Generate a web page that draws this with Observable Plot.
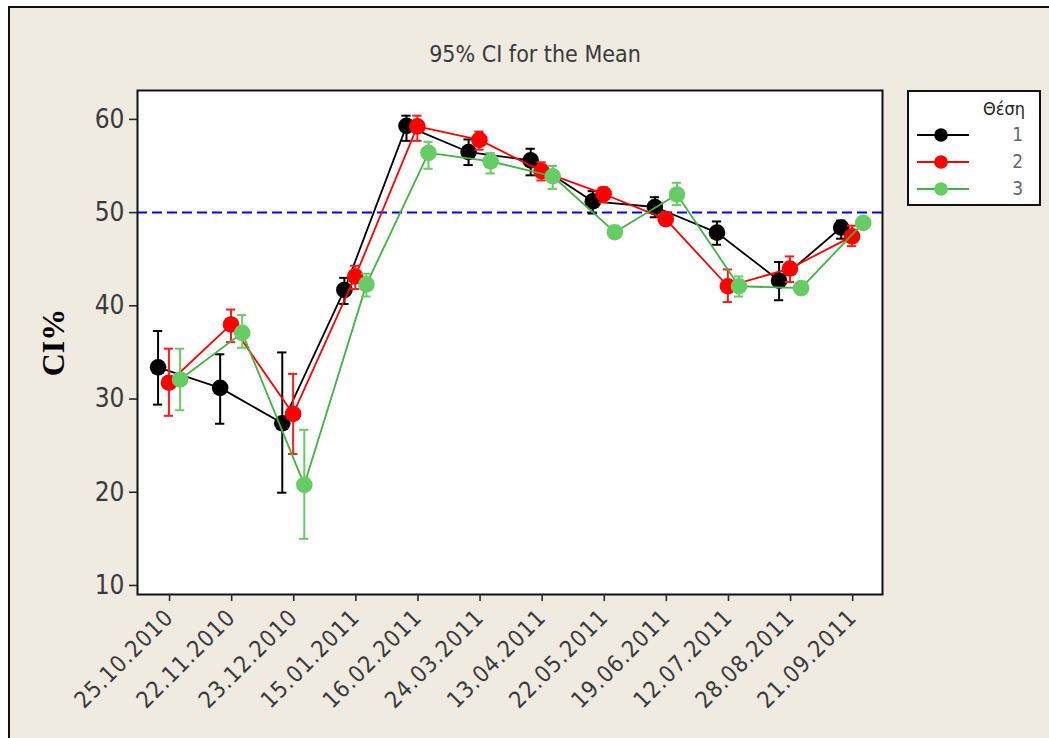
<!DOCTYPE html>
<html><head><meta charset="utf-8">
<script src="https://cdn.jsdelivr.net/npm/d3@7"></script>
<script src="https://cdn.jsdelivr.net/npm/@observablehq/plot@0.6"></script>
<style>
body{margin:0;background:#fff;}
#wrap{position:relative;width:1049px;height:738px;overflow:hidden;font-family:"DejaVu Sans Condensed","DejaVu Sans",sans-serif;}
#bg{position:absolute;left:8px;top:6px;right:-10px;bottom:-10px;background:#EFEBE1;border-left:2px solid #111;border-top:2px solid #111;}
#title{position:absolute;left:0;width:1070px;top:41px;text-align:center;font-size:23px;color:#3a3a3a;}
#chart{position:absolute;left:0;top:0;}
#legend{position:absolute;left:907px;top:90px;width:130px;height:112px;background:#fff;border:2px solid #111;}
#legend .lt{position:absolute;right:14px;top:6px;font-size:18px;color:#222;}
#legend .row{position:absolute;left:0;width:130px;height:20px;}
#legend .row svg{position:absolute;left:8px;top:0;}
#legend .row span{position:absolute;right:16px;top:-2px;font-size:19px;color:#666;}
g[aria-label="y-axis label"] text{font-family:"Liberation Serif",serif;font-weight:bold;font-size:32px;fill:#000;}
g[aria-label="x-axis tick label"] text{letter-spacing:1px;}
</style></head>
<body>
<div id="wrap">
  <div id="bg"></div>
  <div id="title">95% CI for the Mean</div>
  <div id="chart"></div>
  <div id="legend"></div>
</div>
<script>
const dates = ["25.10.2010","22.11.2010","23.12.2010","15.01.2011","16.02.2011","24.03.2011","13.04.2011","22.05.2011","19.06.2011","12.07.2011","28.08.2011","21.09.2011"];
const seriesNames = ["1","2","3"];
const legendTitle = "Θέση";
const yTicks = [10,20,30,40,50,60];
const refLine = [50];

const mean1 = [33.4,31.2,27.4,41.7,59.3,56.5,55.6,51.2,50.6,47.85,42.7,48.4];
const lo1   = [29.4,27.35,19.95,40.2,57.7,55.1,54.0,49.9,49.5,46.55,40.6,47.2];
const hi1   = [37.3,34.8,35.0,43.0,60.4,57.85,56.85,52.3,51.65,49.05,44.7,49.15];

const mean2 = [31.75,38.0,28.4,43.15,59.25,57.8,54.45,52.0,49.3,42.1,44.0,47.45];
const lo2   = [28.2,36.1,24.1,41.8,57.7,56.75,53.45,51.1,48.7,40.4,42.55,46.4];
const hi2   = [35.4,39.6,32.7,44.3,60.4,58.7,55.4,52.7,49.9,43.9,45.3,48.6];

const mean3 = [32.1,37.1,20.8,42.3,56.4,55.5,53.9,47.9,51.95,42.1,41.9,48.9];
const lo3   = [28.8,35.5,15.0,41.0,54.7,54.2,52.55,47.3,50.8,41.0,41.3,48.3];
const hi3   = [35.4,39.0,26.7,43.45,57.6,56.4,55.0,48.5,53.2,43.15,42.5,49.5];

const means = [mean1, mean2, mean3], los = [lo1, lo2, lo3], his = [hi1, hi2, hi3];
const offsets = [-0.185, -0.01, 0.17];
const lineColors = ["#000000", "#ff0000", "#3fb43f"];
const dotColors  = ["#000000", "#ff0000", "#66cc66"];
const barColors  = ["#000000", "#ff1a1a", "#66cc66"];
const cap = 0.075;

const marks = [
  Plot.frame({fill: "white"}),
  Plot.ruleY(refLine, {stroke: "#0000ff", strokeWidth: 2, strokeDasharray: "10,5"})
];
seriesNames.forEach((s, k) => {
  const rows = dates.map((d, i) => ({i, x: i + offsets[k], m: means[k][i], lo: los[k][i], hi: his[k][i]}));
  marks.push(
    Plot.line(rows, {x: "x", y: "m", stroke: lineColors[k], strokeWidth: 1.8}),
    Plot.ruleX(rows, {x: "x", y1: "lo", y2: "hi", stroke: barColors[k], strokeWidth: 2}),
    Plot.ruleY(rows, {y: "lo", x1: d => d.x - cap, x2: d => d.x + cap, stroke: barColors[k], strokeWidth: 2}),
    Plot.ruleY(rows, {y: "hi", x1: d => d.x - cap, x2: d => d.x + cap, stroke: barColors[k], strokeWidth: 2}),
    Plot.dot(rows, {x: "x", y: "m", r: 8.3, fill: dotColors[k], stroke: "none"})
  );
});
marks.push(
  Plot.frame({stroke: "#111", strokeWidth: 2}),
  Plot.axisY(yTicks, {tickSize: 8, tickPadding: 5, strokeWidth: 1.6, fill: "#3a3a3a", label: "CI%", labelAnchor: "center", labelArrow: "none", labelOffset: 96}),
  Plot.axisX(d3.range(dates.length), {tickFormat: i => dates[i], tickRotate: -45, tickSize: 7, tickPadding: 12, strokeWidth: 1.6, fill: "#3a3a3a", fontSize: 23, label: null})
);

const chart = Plot.plot({
  width: 1049, height: 738,
  marginLeft: 137, marginRight: 167, marginTop: 90, marginBottom: 144,
  x: {domain: [-0.516, 11.48]},
  y: {domain: [9.03, 63.1]},
  style: {background: "transparent", fontFamily: '"DejaVu Sans Condensed","DejaVu Sans",sans-serif', fontSize: "26px", color: "#2a2a2a", overflow: "visible"},
  marks
});
document.getElementById("chart").appendChild(chart);

// legend
const lg = document.getElementById("legend");
const t = document.createElement("div"); t.className = "lt"; t.textContent = legendTitle; lg.appendChild(t);
seriesNames.forEach((s, k) => {
  const row = document.createElement("div"); row.className = "row"; row.style.top = (33 + k * 27) + "px";
  row.innerHTML = `<svg width="56" height="20"><line x1="0" x2="52" y1="10" y2="10" stroke="${lineColors[k]}" stroke-width="2"/><circle cx="24" cy="10" r="6.8" fill="${dotColors[k]}"/></svg><span>${s}</span>`;
  lg.appendChild(row);
});
</script>
</body></html>
